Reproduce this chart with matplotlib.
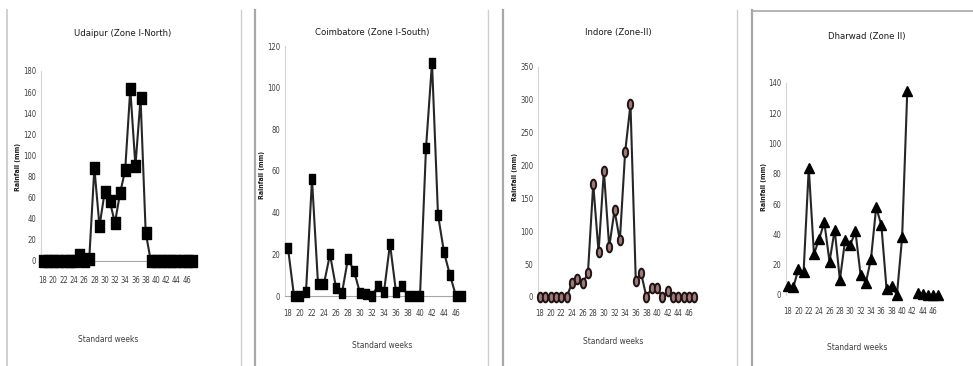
import numpy as np
import matplotlib
matplotlib.use("Agg")
import matplotlib.pyplot as plt
from matplotlib.lines import Line2D

W, H = 973, 366
NAN = float("nan")

weeks = list(range(18, 48))
tick_weeks = list(range(18, 47, 2))

udaipur = [0, 0, 0, 0, 0, 0, 0, 6, 0, 2, 88, 33, 65, 57, 36, 64, 86, 163, 90, 154,
           27, 0, 0, 0, 0, 0, 0, 0, 0, 0]
coimbatore = [23, 0, 0, 2, 56, 6, 6, 20, 4, 1.5, 18, 12, 1.5, 1, 0, 5, 2, 25, 2, 5,
              0, 0, 0, 71, 112, 39, 21, 10, 0, 0]
indore = [0, 0, 0, 0, 0, 0, 21, 28, 21, 36, 172, 68, 192, 76, 132, 86, 221, 293, 24, 36,
          0, 14, 13, 0, 9, 0, 0, 0, 0, 0]
dharwad = [6, 5, 17, 15, 84, 27, 37, 48, 22, 43, 10, 36, 33, 42, 13, 8, 24, 58, 46, 4,
           6, 0, 38, 135, NAN, 1.5, 0.5, 0, 0, 0]

titles = ["Udaipur (Zone I-North)", "Coimbatore (Zone I-South)", "Indore (Zone-II)", "Dharwad (Zone II)"]
ylabel = "Rainfall (mm)"
xlabel = "Standard weeks"
series = [udaipur, coimbatore, indore, dharwad]
yticks = [list(range(0, 181, 20)), list(range(0, 121, 20)), list(range(0, 351, 50)), list(range(0, 141, 20))]

# marker shapes
tall_rect = [(-0.72, -1), (0.72, -1), (0.72, 1), (-0.72, 1), (-0.72, -1)]
_t = np.linspace(0, 2 * np.pi, 25)
tall_oval = list(zip(0.55 * np.cos(_t), np.sin(_t)))

# layout (pixels)
panels = [
    dict(left=41, right=197, y0=261, ytop=71, xlim=(17.6, 48.0), title=(123, 33), xl=(108, 340), yl=(18, 167), pad=11,
         marker=tall_rect, ms=9.0, mfc="black", mec="black", mew=1.0, bottom=True),
    dict(left=285, right=465, y0=296, ytop=46, xlim=(17.5, 47.5), title=(372, 33), xl=(382, 345), yl=(262, 175), pad=9,
         marker=tall_rect, ms=7.0, mfc="black", mec="black", mew=1.0, bottom=True),
    dict(left=538, right=697, y0=297, ytop=67, xlim=(17.62, 47.5), title=(618, 33), xl=(613, 342), yl=(515, 177), pad=9,
         marker=tall_oval, ms=7.0, mfc="#a07878", mec="#1e1414", mew=1.4, bottom=False),
    dict(left=786, right=941, y0=295, ytop=83, xlim=(17.61, 47.5), title=(867, 37), xl=(857, 348), yl=(764, 187), pad=9,
         marker="^", ms=7.0, mfc="black", mec="black", mew=1.0, bottom=False),
]

plt.rcParams["font.family"] = ["Liberation Sans Narrow", "DejaVu Sans"]
plt.rcParams["font.stretch"] = "condensed"

fig = plt.figure(figsize=(W / 100, H / 100), dpi=100)
fig.patch.set_facecolor("white")

def fx(x):
    return x / W

def fy(y):
    return 1 - y / H

for p, vals, title, yt in zip(panels, series, titles, yticks):
    ax = fig.add_axes([fx(p["left"]), fy(p["y0"]), (p["right"] - p["left"]) / W, (p["y0"] - p["ytop"]) / H])
    ax.plot(weeks, vals, color="#262626", lw=1.5, marker=p["marker"], ms=p["ms"],
            mfc=p["mfc"], mec=p["mec"], mew=p["mew"], clip_on=False, zorder=3)
    ax.set_xlim(*p["xlim"])
    ax.set_ylim(yt[0], yt[-1])
    ax.set_yticks(yt)
    ax.set_xticks(tick_weeks)
    ax.set_xticklabels([str(w) for w in tick_weeks])
    ax.tick_params(length=0, labelsize=5.5, labelcolor="#404040")
    ax.tick_params(axis="x", pad=p["pad"])
    ax.tick_params(axis="y", pad=3.5)
    for s in ["top", "right"]:
        ax.spines[s].set_visible(False)
    ax.spines["left"].set_color("#d4d4d4")
    ax.spines["left"].set_linewidth(0.8)
    if p["bottom"]:
        ax.spines["bottom"].set_color("#a6a6a6")
        ax.spines["bottom"].set_linewidth(0.8)
    else:
        ax.spines["bottom"].set_visible(False)
    ax.patch.set_alpha(0)
    fig.text(fx(p["title"][0]), fy(p["title"][1]), title, ha="center", va="center",
             fontsize=6.8, color="#1a1a1a")
    fig.text(fx(p["xl"][0]), fy(p["xl"][1]), xlabel, ha="center", va="center",
             fontsize=6, color="#404040")
    fig.text(fx(p["yl"][0]), fy(p["yl"][1]), ylabel, ha="center", va="center",
             rotation=90, fontsize=5, fontweight="bold", color="#1a1a1a")

# panel frame lines
frame_lines = [(7, "#c8c8c8", 1.2), (241, "#cfcfcf", 1.0), (255, "#a8a8a8", 1.6),
               (488, "#cfcfcf", 1.0), (503, "#a8a8a8", 1.6), (737, "#cfcfcf", 1.0), (752, "#a8a8a8", 1.6)]
for x, c, lw in frame_lines:
    fig.add_artist(Line2D([fx(x), fx(x)], [fy(10), fy(366)], color=c, lw=lw, transform=fig.transFigure))
fig.add_artist(Line2D([fx(752), fx(973)], [fy(11), fy(11)], color="#a8a8a8", lw=1.2, transform=fig.transFigure))

fig.savefig("out.png", dpi=100, facecolor="white")
